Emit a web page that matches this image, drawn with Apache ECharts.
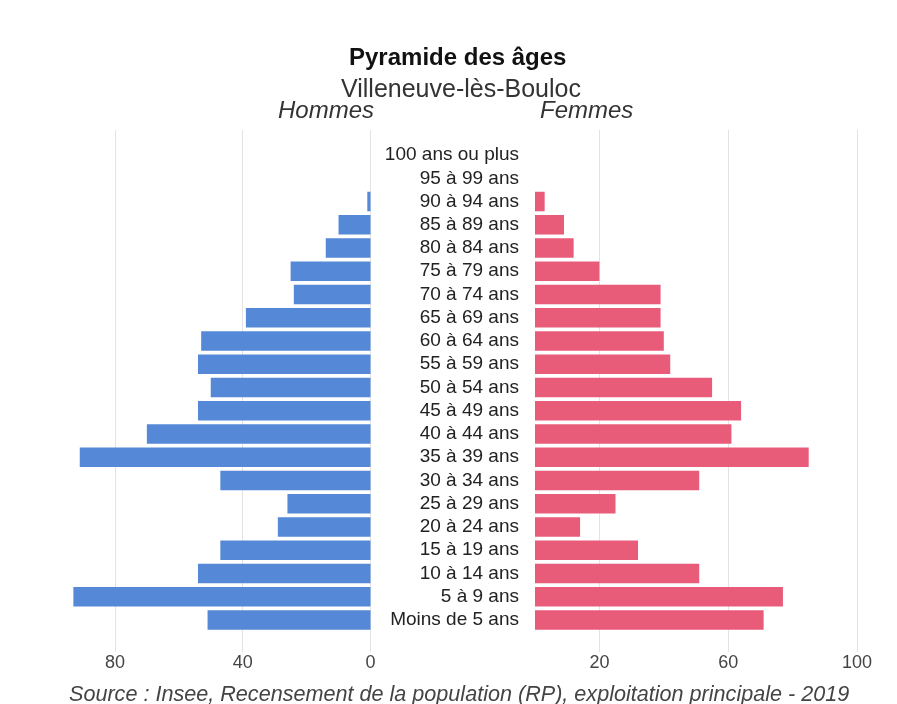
<!DOCTYPE html>
<html>
<head>
<meta charset="utf-8">
<script src="https://cdn.jsdelivr.net/npm/echarts@6/dist/echarts.min.js"></script>
<style>
html,body{margin:0;padding:0;background:#fff;}
#chart{width:897px;height:704px;}
</style>
</head>
<body>
<div id="chart"></div>
<script>
const categories = ['100 ans ou plus','95 à 99 ans','90 à 94 ans','85 à 89 ans','80 à 84 ans','75 à 79 ans','70 à 74 ans','65 à 69 ans','60 à 64 ans','55 à 59 ans','50 à 54 ans','45 à 49 ans','40 à 44 ans','35 à 39 ans','30 à 34 ans','25 à 29 ans','20 à 24 ans','15 à 19 ans','10 à 14 ans','5 à 9 ans','Moins de 5 ans'];
const hommes = [0,0,1,10,14,25,24,39,53,54,50,54,70,91,47,26,29,47,54,93,51];
const femmes = [0,0,3,9,12,20,39,39,40,42,55,64,61,85,51,25,14,32,51,77,71];
const ticksHommes = [0,40,80];
const ticksFemmes = [20,60,100];

const FONT = "'Liberation Sans', Arial, sans-serif";
const chart = echarts.init(document.getElementById('chart'), null, {renderer:'canvas'});
const gridColor = '#e3e3e3';

chart.setOption({
  backgroundColor:'#fff',
  animation:false,
  title:[
    {text:'Pyramide des âges', left:344, top:41, textStyle:{fontFamily:FONT,fontSize:24,fontWeight:'bold',color:'#111'}},
    {text:'Villeneuve-lès-Bouloc', left:336, top:73, textStyle:{fontFamily:FONT,fontSize:25,fontWeight:'normal',color:'#333'}},
    {text:'Hommes', left:273, top:94, textStyle:{fontFamily:FONT,fontSize:24,fontStyle:'italic',fontWeight:'normal',color:'#333'}},
    {text:'Femmes', left:535, top:94, textStyle:{fontFamily:FONT,fontSize:24,fontStyle:'italic',fontWeight:'normal',color:'#333'}},
    {text:'Source : Insee, Recensement de la population (RP), exploitation principale - 2019', left:64, top:679, textStyle:{fontFamily:FONT,fontSize:21.6,fontStyle:'italic',fontWeight:'normal',color:'#444'}}
  ],
  grid:[
    {left:51, right:526.5, top:130, bottom:52},
    {left:535, right:40, top:130, bottom:52},
    {left:51, right:526.5, top:143.4, bottom:72.4},
    {left:535, right:40, top:143.4, bottom:72.4}
  ],
  xAxis:[
    {gridIndex:0, type:'value', min:0, max:100, inverse:true,
     axisLine:{show:false}, axisTick:{show:false, customValues:ticksHommes},
     splitLine:{show:true, lineStyle:{color:gridColor}},
     axisLabel:{customValues:ticksHommes, margin:2, fontFamily:FONT, fontSize:18, color:'#444'}},
    {gridIndex:1, type:'value', min:0, max:100,
     axisLine:{show:false}, axisTick:{show:false, customValues:ticksFemmes},
     splitLine:{show:true, lineStyle:{color:gridColor}},
     axisLabel:{customValues:ticksFemmes, margin:2, fontFamily:FONT, fontSize:18, color:'#444'}},
    {gridIndex:2, type:'value', min:0, max:100, inverse:true, show:false, splitLine:{show:false}},
    {gridIndex:3, type:'value', min:0, max:100, show:false, splitLine:{show:false}}
  ],
  yAxis:[
    {gridIndex:0, type:'value', show:false, splitLine:{show:false}},
    {gridIndex:1, type:'value', show:false, splitLine:{show:false}},
    {gridIndex:2, type:'category', data:categories, inverse:true, show:false},
    {gridIndex:3, type:'category', data:categories, inverse:true,
     axisLine:{show:false}, axisTick:{show:false}, splitLine:{show:false},
     axisLabel:{interval:0, margin:16, fontFamily:FONT, fontSize:19, color:'#222'}}
  ],
  series:[
    {name:'Hommes', type:'bar', xAxisIndex:2, yAxisIndex:2, data:hommes,
     barCategoryGap:'16%', itemStyle:{color:'#5589d7'}},
    {name:'Femmes', type:'bar', xAxisIndex:3, yAxisIndex:3, data:femmes,
     barCategoryGap:'16%', itemStyle:{color:'#e85c7a'}}
  ]
});
</script>
</body>
</html>
